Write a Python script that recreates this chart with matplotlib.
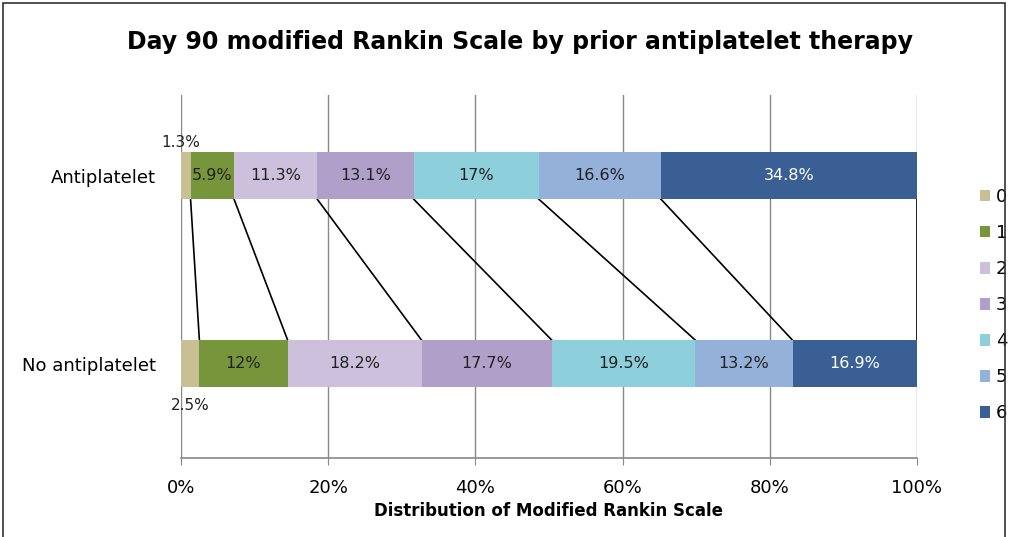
import matplotlib
matplotlib.use("Agg")
import matplotlib.pyplot as plt
from matplotlib.patches import Rectangle

groups = ["Antiplatelet", "No antiplatelet"]
levels = ["0", "1", "2", "3", "4", "5", "6"]
antiplatelet = [1.3, 5.9, 11.3, 13.1, 17, 16.6, 34.8]
no_antiplatelet = [2.5, 12, 18.2, 17.7, 19.5, 13.2, 16.9]
labels_top = ["1.3%", "5.9%", "11.3%", "13.1%", "17%", "16.6%", "34.8%"]
labels_bot = ["2.5%", "12%", "18.2%", "17.7%", "19.5%", "13.2%", "16.9%"]
colors = ["#c8bf94", "#77953a", "#cdc0dc", "#b09fc8", "#8ecfdc", "#93b1d9", "#3a5f95"]
xticks = [0, 20, 40, 60, 80, 100]

fig = plt.figure(figsize=(10.1, 5.37), dpi=100)
ax = fig.add_axes([0.1792, 0.147, 0.7287, 0.676])

y_top, y_bot, h = 0.778, 0.260, 0.129

left_t, left_b = 0.0, 0.0
for i, lev in enumerate(levels):
    ax.barh(y_top, antiplatelet[i], left=left_t, height=h, color=colors[i],
            label=lev, zorder=3)
    ax.barh(y_bot, no_antiplatelet[i], left=left_b, height=h, color=colors[i],
            zorder=3)
    tc = "white" if i == 6 else "#222222"
    if i > 0:
        ax.text(left_t + antiplatelet[i] / 2, y_top, labels_top[i], ha="center",
                va="center", fontsize=11.5, color=tc, zorder=4)
        ax.text(left_b + no_antiplatelet[i] / 2, y_bot, labels_bot[i], ha="center",
                va="center", fontsize=11.5, color=tc, zorder=4)
    left_t += antiplatelet[i]
    left_b += no_antiplatelet[i]
    # connector lines between segment ends
    ax.plot([left_t, left_b], [y_top - h / 2, y_bot + h / 2], color="black",
            lw=1.2, zorder=2)

ax.text(0, y_top + h / 2 + 0.005, labels_top[0], ha="center", va="bottom",
        fontsize=11, color="#222222")
ax.text(1.2, y_bot - h / 2 - 0.03, labels_bot[0], ha="center", va="top",
        fontsize=11, color="#222222")

ax.set_xlim(0, 100)
ax.set_ylim(0, 1)
ax.set_xticks(xticks)
ax.set_xticklabels([f"{t}%" for t in xticks], fontsize=13)
ax.set_yticks([y_top, y_bot])
ax.set_yticklabels(groups, fontsize=13)
ax.tick_params(axis="y", length=0, pad=18)
ax.tick_params(axis="x", length=5, color="#888888", pad=10)
ax.grid(axis="x", color="#888888", lw=1, zorder=0)
for s in ["top", "right", "left"]:
    ax.spines[s].set_visible(False)
ax.spines["bottom"].set_color("#888888")
ax.spines["bottom"].set_linewidth(1.2)

ax.set_xlabel("Distribution of Modified Rankin Scale", fontsize=12,
              fontweight="bold", family=["Liberation Sans Narrow", "DejaVu Sans"],
              labelpad=4)

fig.text(0.515, 0.922, "Day 90 modified Rankin Scale by prior antiplatelet therapy",
         ha="center", va="center", fontsize=17, fontweight="bold")

ax.legend(loc="center left", bbox_to_anchor=(1.085, 0.421), frameon=False,
          fontsize=13, handlelength=0.6, handleheight=0.6, handletextpad=0.3,
          labelspacing=1.0, borderaxespad=0, borderpad=0)

fig.add_artist(Rectangle((0.003, -0.01), 0.992, 1.005, transform=fig.transFigure,
                         fill=False, edgecolor="#333333", lw=1.2))

fig.savefig("out.png", dpi=100)
